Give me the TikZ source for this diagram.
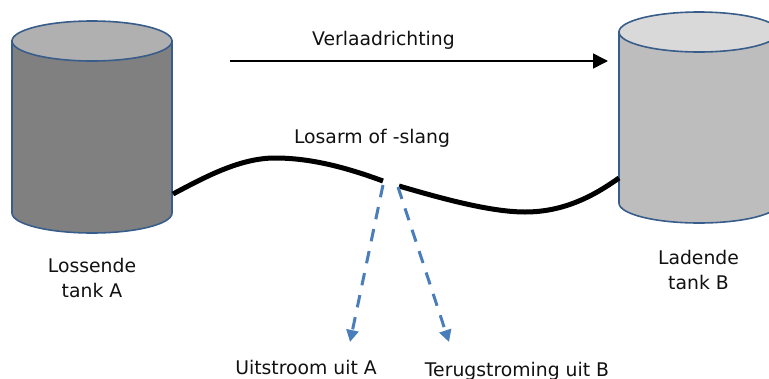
\documentclass[tikz,border=0pt]{standalone}
\usepackage{fontspec}
\setmainfont{DejaVu Sans}
\usetikzlibrary{arrows.meta}
\definecolor{tankline}{HTML}{385D8A}
\definecolor{flowblue}{HTML}{4A7EBB}
\definecolor{textblack}{HTML}{111111}
\tikzset{
  tankoutline/.style={draw=tankline,line width=1.6pt},
  hose/.style={line width=5pt,black},
  direction/.style={line width=1.6pt,black,-{Triangle[length=15pt,width=15pt]}},
  leak/.style={line width=3pt,flowblue,dash pattern=on 12.5pt off 10pt,-{Triangle[length=12pt,width=12pt]}},
  label/.style={font=\fontsize{18.8}{24.5}\selectfont,text=textblack,inner sep=0pt,align=center,anchor=center}
}
% Upright tank: left edge x, width w, lid centre y, base centre y, semi-axis ry
\newcommand{\tank}[7]{%
  \path[tankoutline,fill=#6] (#1,#3) -- (#1,#4) arc[start angle=180,end angle=0,x radius=#2/2,y radius=#5]
     -- (#1+#2,#3) -- cycle;
  \path[tankoutline,fill=#7] (#1+#2/2,#3) ellipse[x radius=#2/2,y radius=#5];
}
\begin{document}
\begin{tikzpicture}[x=1pt,y=-1pt]
\useasboundingbox (0,0) rectangle (769,378);
\clip (0,0) rectangle (769,378);
\tank{12}{160}{41}{213}{20}{black!50!white}{black!31!white}
\tank{619}{160}{32}{203}{20}{black!26!white}{black!15!white}

\coordinate (armA) at (173,194);
\coordinate (breakA) at (383,181);
\coordinate (breakB) at (399,186);
\coordinate (armB) at (619,178);
\coordinate (leakA) at (383,185);
\coordinate (leakAend) at (350,342);
\coordinate (leakB) at (398,187);
\coordinate (leakBend) at (449,342);
\coordinate (dirStart) at (230,61);
\coordinate (dirEnd) at (608,61);

\draw[hose] (armA) .. controls (205,177) and (240,158) .. (275,158) .. controls (310,158) and (345,167) .. (breakA);
\draw[hose] (breakB) .. controls (440,198) and (490,212) .. (525,212) .. controls (565,212) and (595,195) .. (armB);
\draw[direction] (dirStart) -- (dirEnd);
\draw[leak] (leakA) -- (leakAend);
\draw[leak] (leakB) -- (leakBend);

\node[label] (verlaad) at (383.5,40) {Verlaadrichting};
\node[label] (losarm) at (372,138) {Losarm of -slang};
\node[label] (tankAtext) at (92,278) {Lossende\\tank A};
\node[label] (tankBtext) at (698.5,270) {Ladende\\tank B};
\node[label] (uitA) at (306,367) {Uitstroom uit A};
\node[label] (uitB) at (517,371) {Terugstroming uit B};
\end{tikzpicture}
\end{document}
